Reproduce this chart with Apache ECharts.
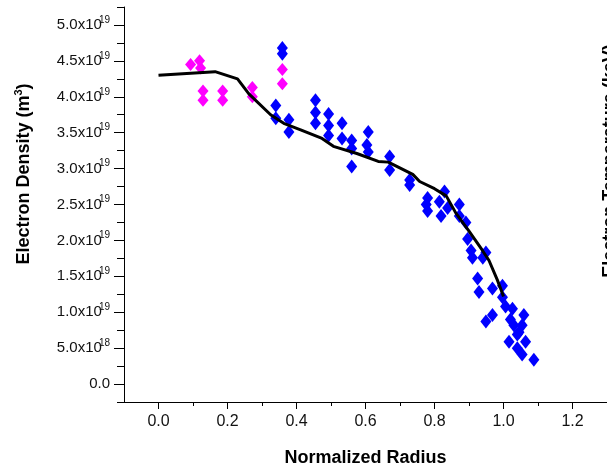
<!DOCTYPE html>
<html><head><meta charset="utf-8">
<script src="https://cdn.jsdelivr.net/npm/echarts@6/dist/echarts.min.js"></script>
<style>html,body{margin:0;padding:0;background:#fff}#c{width:607px;height:472px}</style>
</head><body><div id="c"></div>
<script>
// Fitted curve (x: normalized radius, y: density in 1e19 m^-3)
var lineX = [0.0, 0.164, 0.229, 0.262, 0.325, 0.363, 0.412, 0.474, 0.507, 0.575, 0.637, 0.666, 0.737, 0.757, 0.800, 0.834, 0.862, 0.900, 0.939, 0.958, 0.982, 0.990, 1.0];
var lineY = [4.30, 4.35, 4.25, 4.04, 3.75, 3.63, 3.54, 3.42, 3.31, 3.21, 3.10, 3.09, 2.92, 2.82, 2.72, 2.62, 2.38, 2.13, 1.86, 1.72, 1.45, 1.35, 1.22];
// Magenta points
var magX = [0.093, 0.119, 0.122, 0.129, 0.129, 0.186, 0.186, 0.272, 0.272, 0.359, 0.359];
var magY = [4.45, 4.50, 4.40, 4.08, 3.95, 4.08, 3.95, 4.13, 4.00, 4.38, 4.18];
// Blue points
var bluX = [0.359, 0.359, 0.340, 0.340, 0.378, 0.378, 0.455, 0.455, 0.455, 0.493, 0.493, 0.493, 0.532, 0.532, 0.560, 0.560, 0.560, 0.608, 0.604, 0.608, 0.670, 0.670, 0.728, 0.728, 0.780, 0.780, 0.814, 0.829, 0.819, 0.838, 0.872, 0.872, 0.891, 0.776, 0.896, 0.906, 0.910, 0.940, 0.949, 0.925, 0.929, 0.968, 0.997, 0.997, 1.006, 1.026, 0.949, 0.968, 1.030, 1.059, 1.054, 1.016, 1.040, 1.040, 1.064, 1.054, 1.088, 1.045, 1.020];
var bluY = [4.68, 4.60, 3.88, 3.70, 3.68, 3.51, 3.95, 3.78, 3.63, 3.76, 3.60, 3.46, 3.63, 3.42, 3.39, 3.28, 3.03, 3.51, 3.33, 3.23, 3.17, 2.98, 2.84, 2.77, 2.59, 2.41, 2.54, 2.68, 2.34, 2.45, 2.50, 2.34, 2.25, 2.50, 2.02, 1.86, 1.76, 1.76, 1.83, 1.47, 1.28, 1.33, 1.37, 1.21, 1.08, 1.05, 0.87, 0.96, 0.82, 0.96, 0.82, 0.59, 0.69, 0.50, 0.59, 0.41, 0.34, 0.72, 0.90];
// Tick values and labels
var yTicks = [0, 0.5, 1.0, 1.5, 2.0, 2.5, 3.0, 3.5, 4.0, 4.5, 5.0];
var yTickMant = ['0.0', '5.0x10', '1.0x10', '1.5x10', '2.0x10', '2.5x10', '3.0x10', '3.5x10', '4.0x10', '4.5x10', '5.0x10'];
var yTickExp = ['', '18', '19', '19', '19', '19', '19', '19', '19', '19', '19'];
var yMinor = [-0.25, 0.25, 0.75, 1.25, 1.75, 2.25, 2.75, 3.25, 3.75, 4.25, 4.75, 5.25];
var xTicks = [0, 0.2, 0.4, 0.6, 0.8, 1.0, 1.2];
var xTickText = ['0.0', '0.2', '0.4', '0.6', '0.8', '1.0', '1.2'];
var xMinor = [0.1, 0.3, 0.5, 0.7, 0.9, 1.1, 1.3];

function zip(a, b) { return a.map(function (v, i) { return [v, b[i]]; }); }

var chart = echarts.init(document.getElementById('c'), null, {renderer: 'canvas'});
var FONT = 'Liberation Sans, Arial, sans-serif';
function axLine(show) { return {show: show, onZero: false, lineStyle: {color: '#000', width: 1}}; }
chart.setOption({
  animation: false,
  grid: {left: 124, right: 0, top: 7, bottom: 70, containLabel: false},
  xAxis: [
    {type: 'value', min: -0.1, max: 1.3, position: 'bottom', splitLine: {show: false},
      axisLine: axLine(true),
      axisTick: {show: true, inside: false, length: 7, customValues: xTicks, lineStyle: {color: '#000'}},
      axisLabel: {show: true, customValues: xTicks, margin: 12, color: '#111', fontFamily: FONT, fontSize: 16,
        formatter: function (v) { var i = xTicks.findIndex(function (t) { return Math.abs(t - v) < 1e-6; }); return i >= 0 ? xTickText[i] : ''; }},
      name: 'Normalized Radius', nameLocation: 'middle', nameGap: 47,
      nameTextStyle: {fontFamily: FONT, fontSize: 18, fontWeight: 'bold', color: '#000'}},
    {type: 'value', min: -0.1, max: 1.3, position: 'bottom', splitLine: {show: false},
      axisLine: axLine(false),
      axisTick: {show: true, inside: false, length: 4, customValues: xMinor, lineStyle: {color: '#000'}},
      axisLabel: {show: false}}
  ],
  yAxis: [
    {type: 'value', min: -0.25, max: 5.25, position: 'left', splitLine: {show: false},
      axisLine: axLine(true),
      axisTick: {show: true, inside: false, length: 10, customValues: yTicks, lineStyle: {color: '#000'}},
      axisLabel: {show: true, customValues: yTicks, margin: 14, color: '#111', fontFamily: FONT, fontSize: 15,
        formatter: function (v) {
          var i = yTicks.findIndex(function (t) { return Math.abs(t - v) < 1e-6; });
          if (i < 0) return '';
          return yTickExp[i] ? '{a|' + yTickMant[i] + '}{s|' + yTickExp[i] + '}' : '{a|' + yTickMant[i] + '}';
        },
        rich: {
          a: {fontFamily: FONT, fontSize: 15, color: '#111', lineHeight: 20},
          s: {fontFamily: FONT, fontSize: 10, color: '#111', verticalAlign: 'top', lineHeight: 10, padding: [0, 0, 0, -3]}
        }}},
    {type: 'value', min: -0.25, max: 5.25, position: 'left', splitLine: {show: false},
      axisLine: axLine(false),
      axisTick: {show: true, inside: false, length: 7, customValues: yMinor, lineStyle: {color: '#000'}},
      axisLabel: {show: false}}
  ],
  graphic: [
    {type: 'text', x: 24, y: 174, rotation: Math.PI / 2,
      style: {text: '{t|Electron Density (m}{s|3}{t|)}', align: 'center', verticalAlign: 'middle',
        rich: {t: {fontFamily: FONT, fontSize: 18, fontWeight: 'bold', fill: '#000', lineHeight: 22},
               s: {fontFamily: FONT, fontSize: 11, fontWeight: 'bold', fill: '#000', verticalAlign: 'top', lineHeight: 11}}}},
    {type: 'text', x: 610, y: 161, rotation: Math.PI / 2,
      style: {text: 'Electron Temperature (keV)', align: 'center', verticalAlign: 'middle',
        font: 'bold 18px ' + FONT, fill: '#000'}}
  ],
  series: [
    {type: 'scatter', xAxisIndex: 0, yAxisIndex: 0, data: zip(bluX, bluY), symbol: 'diamond', symbolSize: [11, 14],
      itemStyle: {color: '#0000ff', opacity: 1}, z: 2},
    {type: 'scatter', xAxisIndex: 0, yAxisIndex: 0, data: zip(magX, magY), symbol: 'diamond', symbolSize: [11, 13],
      itemStyle: {color: '#ff00ff', opacity: 1}, z: 2},
    {type: 'line', xAxisIndex: 0, yAxisIndex: 0, data: zip(lineX, lineY), showSymbol: false, symbol: 'none',
      lineStyle: {color: '#000', width: 3}, z: 3}
  ]
});
</script></body></html>
